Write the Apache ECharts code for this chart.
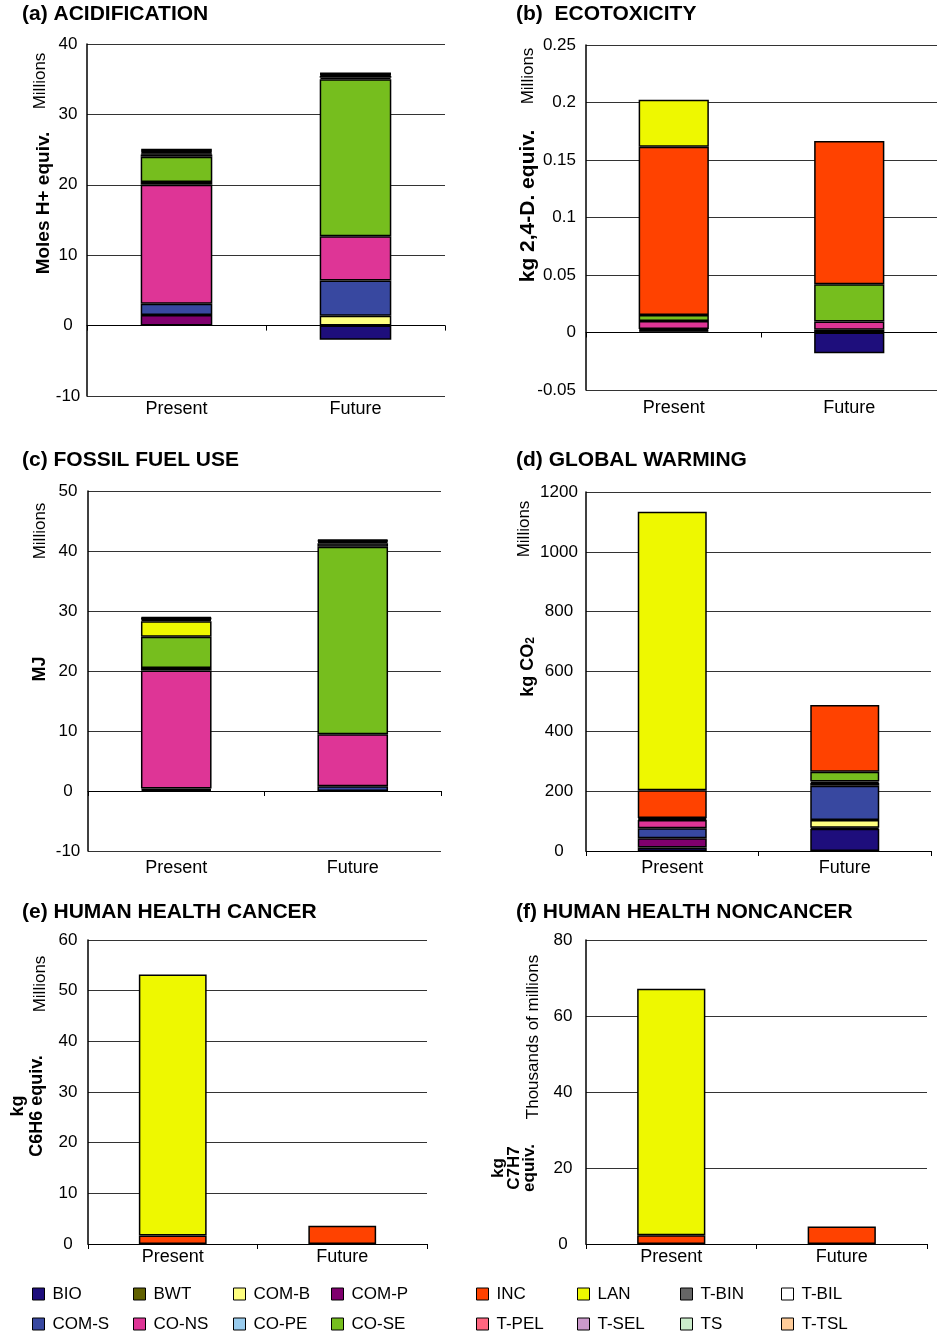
<!DOCTYPE html>
<html>
<head>
<meta charset="utf-8">
<script src="https://cdn.jsdelivr.net/npm/echarts@6/dist/echarts.min.js"></script>
<style>
html,body{margin:0;padding:0;background:#fff;}
#chart{width:937px;height:1335px;}
</style>
</head>
<body>
<div id="chart"></div>
<script>
// ---------- DATA ----------
const categories = ['Present', 'Future'];
const seriesNames = ['BIO','BWT','COM-B','COM-P','COM-S','CO-NS','CO-PE','CO-SE','INC','LAN','T-BIN','T-BIL','T-PEL','T-SEL','TS','T-TSL'];

// values per series (same order as seriesNames); null = no segment
const acidPresent   = [null, null, null, 1.5, 1.6, 16.9, 0.4, 3.6, null, null, 0.3, 0.15, 0.2, 0.15, 0.15, 0.15];
const acidFuture    = [-2.0, null, 1.4, null, 5.0, 6.3, null, 22.3, 0.2, null, 0.25, null, 0.15, 0.1, 0.1, 0.1];

const ecoPresent    = [0.001, null, null, 0.001, 0.001, 0.0071, null, 0.0052, 0.1463, 0.0408, null, null, null, null, null, null];
const ecoFuture     = [-0.018, null, null, null, 0.0023, 0.0073, null, 0.0324, 0.1245, null, null, null, null, null, null, null];

const fossilPresent = [null, null, null, 0.2, 0.2, 19.7, 0.4, 5.2, null, 2.6, 0.2, null, 0.15, 0.1, 0.1, 0.15];
const fossilFuture  = [null, null, null, null, 0.8, 8.65, null, 31.25, null, null, 0.6, null, 0.2, 0.15, 0.1, 0.15];

const gwPresent     = [12, null, null, 31, 33, 28, 3, 3, 93, 931, null, null, null, null, null, null];
const gwFuture      = [74, 4, 26, null, 114, 10, 4, 33, 223, null, null, null, null, null, null, null];

const cancerPresent = [null, null, null, null, null, null, null, null, 1.7, 51.5, null, null, null, null, null, null];
const cancerFuture  = [null, null, null, null, null, null, null, null, 3.6, null, null, null, null, null, null, null];

const noncPresent   = [null, null, null, null, null, null, null, null, 2.3, 64.9, null, null, null, null, null, null];
const noncFuture    = [null, null, null, null, null, null, null, null, 4.6, null, null, null, null, null, null, null];

const panelTitles = ['(a) ACIDIFICATION', '(b)  ECOTOXICITY', '(c) FOSSIL FUEL USE', '(d) GLOBAL WARMING', '(e) HUMAN HEALTH CANCER', '(f) HUMAN HEALTH NONCANCER'];
const yMin = [-10, -0.05, -10, 0, 0, 0];
const yMax = [40, 0.25, 50, 1200, 60, 80];
const yInterval = [10, 0.05, 10, 200, 10, 20];

// ---------- STYLE ----------
const seriesColors = ['#1e0e7c','#606000','#ffff80','#80006e','#3848a0','#de3596','#99ccee','#76be1e','#ff4200','#eef800','#666666','#ffffff','#ff6680','#cc99cc','#cceecc','#ffcc99'];
const FONT = "'Liberation Sans', Arial, sans-serif";

const panelData = [
  [acidPresent, acidFuture],
  [ecoPresent, ecoFuture],
  [fossilPresent, fossilFuture],
  [gwPresent, gwFuture],
  [cancerPresent, cancerFuture],
  [noncPresent, noncFuture]
];

const layout = [
  {grid:{left:87, top:44, width:358, height:352}, tl:{left:22, top:4}, lblAlign:'center', lblMargin:19, xMargin:4},
  {grid:{left:586, top:45, width:354, height:345}, tl:{left:516, top:4}, lblAlign:'right', lblMargin:10, xMargin:9},
  {grid:{left:88, top:491, width:353, height:360}, tl:{left:22, top:450}, lblAlign:'center', lblMargin:20, xMargin:8},
  {grid:{left:586, top:492, width:345, height:359}, tl:{left:516, top:450}, lblAlign:'center', lblMargin:27, xMargin:8},
  {grid:{left:88, top:940, width:339, height:304}, tl:{left:22, top:902}, lblAlign:'center', lblMargin:20, xMargin:4},
  {grid:{left:586, top:940, width:341, height:304}, tl:{left:516, top:902}, lblAlign:'center', lblMargin:23, xMargin:4}
];

const grids = [], xAxes = [], yAxes = [], titles = [], series = [];

layout.forEach((L, k) => {
  grids.push(Object.assign({containLabel:false}, L.grid));
  titles.push({
    text: panelTitles[k], left: L.tl.left, top: L.tl.top, padding: 0,
    textStyle: {fontFamily: FONT, fontSize: 21, fontWeight: 'bold', color: '#000'}
  });
  // label axis at the bottom of the plot
  xAxes.push({
    type:'category', gridIndex:k, data:categories, position:'bottom',
    axisLine:{show:false, onZero:false}, axisTick:{show:false}, splitLine:{show:false},
    axisLabel:{color:'#000', fontFamily:FONT, fontSize:18, margin:L.xMargin}
  });
  // zero line with boundary ticks
  xAxes.push({
    type:'category', gridIndex:k, data:categories, position:'top',
    axisLine:{show:true, onZero:true, lineStyle:{color:'#000', width:1}},
    axisTick:{show:true, inside:true, length:5, lineStyle:{color:'#000', width:1}},
    axisLabel:{show:false}, splitLine:{show:false}
  });
  yAxes.push({
    type:'value', gridIndex:k, min:yMin[k], max:yMax[k], interval:yInterval[k],
    axisLine:{show:true, lineStyle:{color:'#000', width:1.5}},
    axisTick:{show:false},
    splitLine:{show:true, lineStyle:{color:'#333', width:1}},
    axisLabel:{color:'#000', fontFamily:FONT, fontSize:17, align:L.lblAlign, margin:L.lblMargin,
               formatter: v => String(Math.round(v * 10000) / 10000)}
  });
  seriesNames.forEach((nm, i) => {
    series.push({
      type:'bar', name:nm, stack:'s'+k, xAxisIndex:2*k, yAxisIndex:k,
      barWidth:'40%',
      data:[panelData[k][0][i], panelData[k][1][i]],
      itemStyle:{color:seriesColors[i], borderColor:'#000', borderWidth:1.5},
      emphasis:{disabled:true}
    });
  });
});

// legends: 8 columns of 2 rows
const legendCols = [
  ['BIO','COM-S'], ['BWT','CO-NS'], ['COM-B','CO-PE'], ['COM-P','CO-SE'],
  ['INC','T-PEL'], ['LAN','T-SEL'], ['T-BIN','TS'], ['T-BIL','T-TSL']
];
const legendLeft = [32, 133, 233, 331, 476, 577, 680, 781];
const legends = legendCols.map((d, c) => ({
  data: d, orient:'vertical', left: legendLeft[c], top: 1285, padding:0,
  itemWidth:12, itemHeight:12, itemGap:12, icon:'rect', selectedMode:false,
  itemStyle:{borderColor:'#000', borderWidth:1},
  textStyle:{fontFamily:FONT, fontSize:17, lineHeight:18, color:'#000', padding:[0,0,0,3]}
}));

// axis annotation texts
function vtext(x, y, text, size, bold, lh) {
  return {
    type:'text', x:x, y:y, rotation:Math.PI/2,
    style:{text:text, fill:'#000', font:(bold?'bold ':'') + size + 'px ' + FONT,
           align:'center', verticalAlign:'middle', lineHeight: lh || size}
  };
}
const graphics = [
  vtext(40.5, 81, 'Millions', 17, false),
  vtext(44, 203, 'Moles H+ equiv.', 19, true),
  vtext(528, 76, 'Millions', 17, false),
  vtext(528, 206, 'kg 2,4-D. equiv.', 21, true),
  vtext(40, 531, 'Millions', 17, false),
  vtext(40, 669, 'MJ', 18, true),
  vtext(524.5, 529, 'Millions', 17, false),
  {
    type:'text', x:528, y:667, rotation:Math.PI/2,
    style:{text:'{a|kg CO}{b|2}', align:'center', verticalAlign:'middle', fill:'#000',
      rich:{a:{fontFamily:FONT, fontSize:18, fontWeight:'bold', lineHeight:18},
            b:{fontFamily:FONT, fontSize:12, fontWeight:'bold', lineHeight:12, verticalAlign:'bottom'}}}
  },
  vtext(40, 984, 'Millions', 17, false),
  vtext(28, 1106, 'kg\nC6H6 equiv.', 18, true, 19),
  vtext(533, 1037, 'Thousands of millions', 17, false),
  vtext(514, 1168, 'kg\nC7H7\nequiv.', 17, true, 15.5)
];

const chart = echarts.init(document.getElementById('chart'), null, {renderer:'canvas'});
chart.setOption({
  animation:false,
  backgroundColor:'#fff',
  title:titles,
  grid:grids,
  xAxis:xAxes,
  yAxis:yAxes,
  legend:legends,
  graphic:graphics,
  series:series
});
</script>
</body>
</html>
